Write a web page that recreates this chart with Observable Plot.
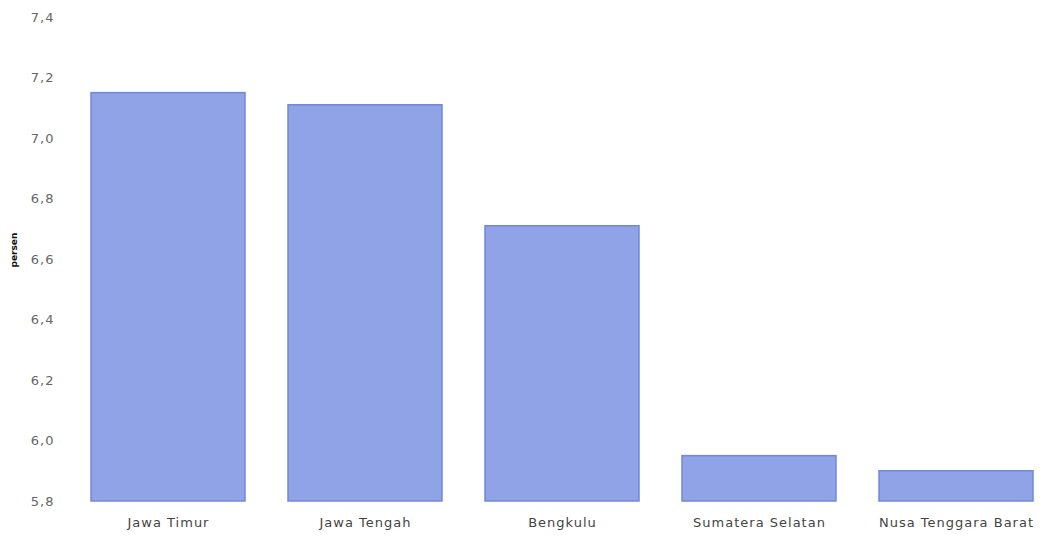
<!DOCTYPE html>
<html>
<head>
<meta charset="utf-8">
<script src="https://cdn.jsdelivr.net/npm/d3@7"></script>
<script src="https://cdn.jsdelivr.net/npm/@observablehq/plot@0.6"></script>
<style>
  html, body { margin: 0; padding: 0; background: #fff; }
  #chart svg { display: block; }
</style>
</head>
<body>
<div id="chart"></div>
<script>
// Provinces and their percentage values
const provinces = ["Jawa Timur", "Jawa Tengah", "Bengkulu", "Sumatera Selatan", "Nusa Tenggara Barat"];
const values = [7.15, 7.11, 6.71, 5.95, 5.9];
const yTicks = [5.8, 6.0, 6.2, 6.4, 6.6, 6.8, 7.0, 7.2, 7.4];

const rows = provinces.map((p, i) => ({province: p, value: values[i]}));
const commaFmt = d => d3.format(".1f")(d).replace(".", ",");

const chart = Plot.plot({
  width: 1053,
  height: 551,
  marginTop: 17,
  marginBottom: 50,
  marginLeft: 70,
  marginRight: 0,
  style: {fontFamily: "DejaVu Sans", fontSize: "13px", background: "#fff"},
  x: {domain: provinces, paddingInner: 0.22, paddingOuter: 0.1, label: null},
  y: {domain: [5.8, 7.4], label: null},
  marks: [
    Plot.barY(rows, {
      x: "province", y1: 5.8, y2: "value",
      fill: "#8fa3e6", stroke: "#7388d8", strokeWidth: 1.5
    }),
    Plot.axisY({
      ticks: yTicks, tickFormat: commaFmt, tickSize: 0, tickPadding: 16,
      fill: "#666", label: null
    }),
    Plot.axisX({
      tickSize: 0, tickPadding: 16, fill: "#444", label: null
    }),
    Plot.text(["persen"], {
      frameAnchor: "left", dx: -56, dy: 8, rotate: -90,
      fontSize: 9, fontWeight: "bold", fill: "#111"
    })
  ]
});

// Slight letter spacing on axis labels
d3.select(chart).selectAll("g[aria-label='x-axis tick label'] text, g[aria-label='y-axis tick label'] text")
  .style("letter-spacing", "1px");

document.getElementById("chart").appendChild(chart);
</script>
</body>
</html>
